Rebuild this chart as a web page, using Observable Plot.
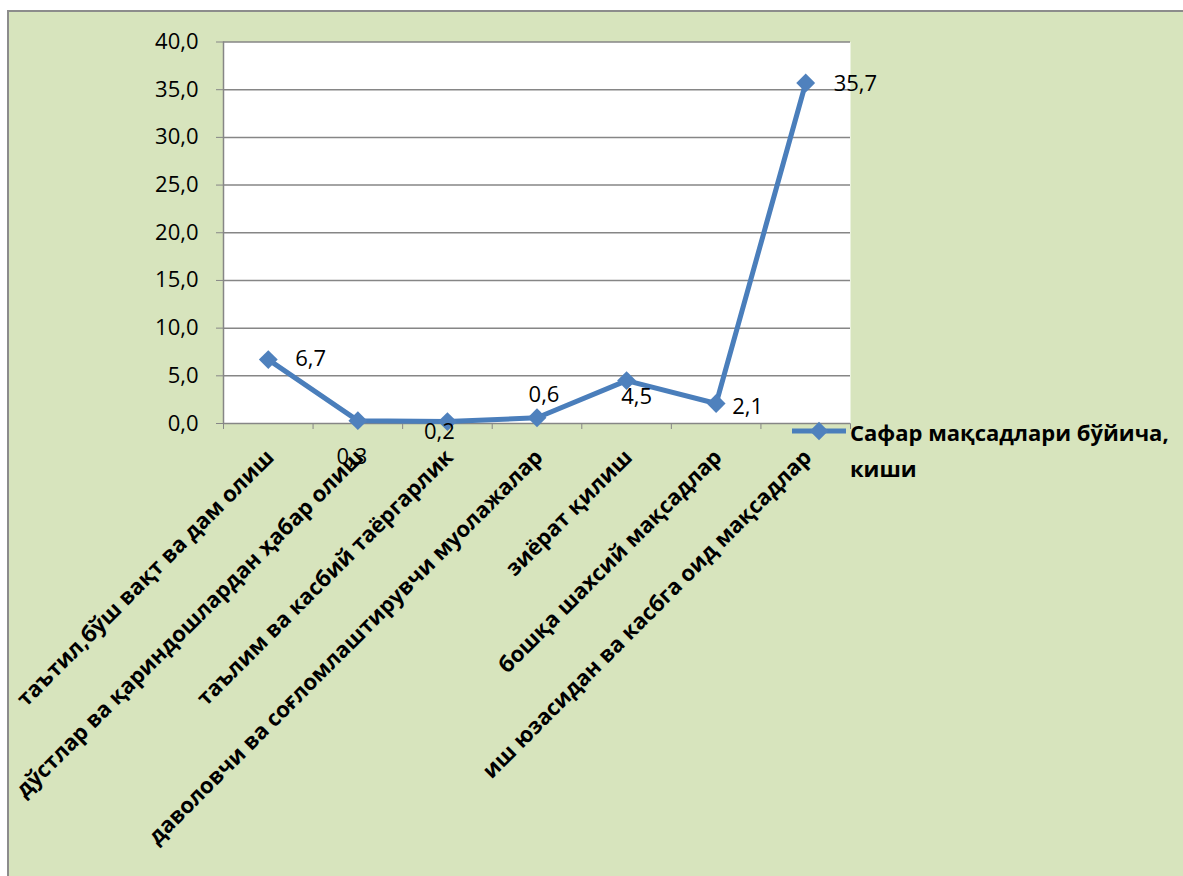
<!DOCTYPE html>
<html>
<head>
<meta charset="utf-8">
<script src="https://cdn.jsdelivr.net/npm/d3@7"></script>
<script src="https://cdn.jsdelivr.net/npm/@observablehq/plot@0.6"></script>
<style>
  body { margin: 0; background: #ffffff; }
  #wrap { position: relative; width: 1183px; height: 876px; overflow: hidden; }
  #bg { position: absolute; left: 7px; top: 10px; width: 1190px; height: 880px; background: #d7e4bd; border: 2px solid #8c8c8c; box-sizing: border-box; }
  #chart { position: absolute; left: 0; top: 0; }
  #swatch { position: absolute; left: 792px; top: 421px; }
  #ltext { position: absolute; left: 850px; top: 414px; width: 333px; font-family: "Open Sans", sans-serif; font-weight: bold; font-size: 22px; line-height: 36px; color: #000; }
</style>
</head>
<body>
<div id="wrap">
  <div id="bg"></div>
  <div id="chart"></div>
  <svg id="swatch" width="54" height="20"></svg>
  <div id="ltext"></div>
</div>
<script>
const categories = [
  "таътил,бўш вақт ва дам олиш",
  "дўстлар ва қариндошлардан ҳабар олиш",
  "таълим ва касбий таёргарлик",
  "даволовчи ва соғломлаштирувчи муолажалар",
  "зиёрат қилиш",
  "бошқа шахсий мақсадлар",
  "иш юзасидан ва касбга оид мақсадлар"
];
const values = [6.7, 0.3, 0.2, 0.6, 4.5, 2.1, 35.7];
const yTicks = [0, 5, 10, 15, 20, 25, 30, 35, 40];
const seriesName = "Сафар мақсадлари бўйича, киши";

// label placement (style): [textAnchor, dx, dy]
const labelPlacement = [
  ["start", 27, -1],
  ["middle", -6, 36],
  ["middle", -8, 10],
  ["middle", 7, -23],
  ["middle", 10, 16],
  ["start", 16, 3],
  ["start", 28, 1]
];

const lineColor = "#4a7ebb";
const markerColor = "#4f81bd";
const gridColor = "#868686";

const data = categories.map((c, i) => ({pos: i + 0.5, category: c, value: values[i]}));
const fmt = v => v.toFixed(1).replace(".", ",");

const valueLabels = data.map((d, i) => Plot.text([d], {
  x: "pos", y: "value", text: r => fmt(r.value),
  textAnchor: labelPlacement[i][0], dx: labelPlacement[i][1], dy: labelPlacement[i][2],
  fontSize: 22, fill: "black"
}));

const chart = Plot.plot({
  width: 1183,
  height: 876,
  marginLeft: 223,
  marginRight: 333,
  marginTop: 41.5,
  marginBottom: 453,
  style: {background: "transparent", color: gridColor, fontFamily: "Open Sans", overflow: "visible"},
  x: {domain: [0, categories.length], ticks: d3.range(categories.length + 1), tickSize: 6, tickFormat: () => "", label: null},
  y: {domain: [0, 40], ticks: yTicks, tickSize: 7, tickFormat: () => "", label: null},
  marks: [
    Plot.frame({fill: "white", stroke: "none"}),
    Plot.ruleY(yTicks, {stroke: gridColor, strokeWidth: 1.5}),
    Plot.ruleX([0], {stroke: gridColor, strokeWidth: 1.5}),
    Plot.text(yTicks, {x: 0, y: d => d, text: d => fmt(d), textAnchor: "end", dx: -25, fontSize: 22, fill: "black"}),
    Plot.text(data, {x: "pos", y: 0, text: "category", rotate: -45, textAnchor: "end", lineAnchor: "top", dx: -4, dy: 24, fontSize: 22, fontWeight: "bold", fill: "black"}),
    Plot.line(data, {x: "pos", y: "value", stroke: lineColor, strokeWidth: 5}),
    Plot.dot(data, {x: "pos", y: "value", symbol: "diamond2", r: 8.5, fill: markerColor, stroke: "none"}),
    ...valueLabels
  ]
});
document.getElementById("chart").appendChild(chart);

// legend
const sw = d3.select("#swatch");
sw.append("line").attr("x1", 0).attr("x2", 54).attr("y1", 10).attr("y2", 10).attr("stroke", lineColor).attr("stroke-width", 5);
sw.append("path").attr("transform", "translate(27,10)").attr("d", d3.symbol(d3.symbolDiamond2, 220)()).attr("fill", markerColor);
document.getElementById("ltext").textContent = seriesName;
</script>
</body>
</html>
